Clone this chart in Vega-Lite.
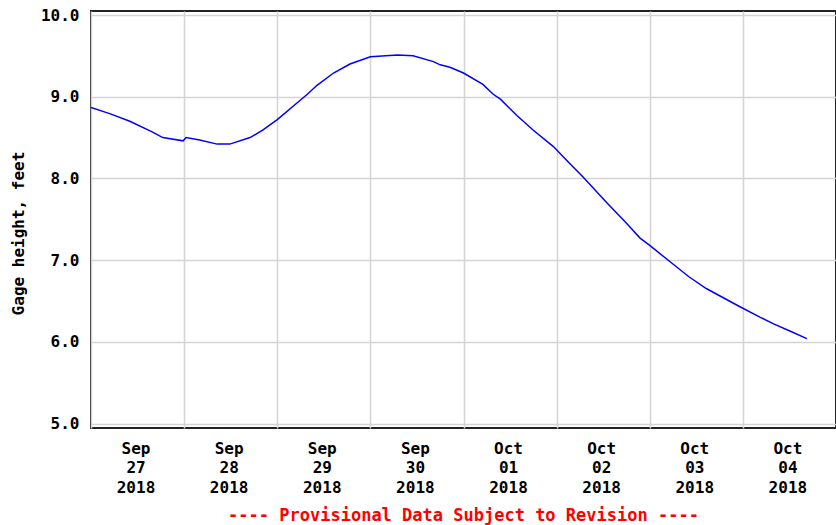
{
  "$schema": "https://vega.github.io/schema/vega-lite/v6.json",
  "autosize": {"type": "none"},
  "width": 745,
  "height": 417,
  "padding": {"left": 91, "top": 11, "right": 0, "bottom": 97},
  "background": "white",
  "config": {
    "view": {"stroke": "#222222", "strokeWidth": 2},
    "font": "DejaVu Sans Mono"
  },
  "data": {
    "values": [
      {"t": "2018-09-27T00:00:00Z", "v": 8.87},
      {"t": "2018-09-27T05:00:00Z", "v": 8.79},
      {"t": "2018-09-27T10:00:00Z", "v": 8.7},
      {"t": "2018-09-27T15:45:00Z", "v": 8.57},
      {"t": "2018-09-27T18:30:00Z", "v": 8.5},
      {"t": "2018-09-27T23:45:00Z", "v": 8.46},
      {"t": "2018-09-28T00:30:00Z", "v": 8.5},
      {"t": "2018-09-28T04:00:00Z", "v": 8.47},
      {"t": "2018-09-28T08:30:00Z", "v": 8.42},
      {"t": "2018-09-28T11:45:00Z", "v": 8.42},
      {"t": "2018-09-28T17:00:00Z", "v": 8.5},
      {"t": "2018-09-28T20:15:00Z", "v": 8.59},
      {"t": "2018-09-29T00:00:00Z", "v": 8.72},
      {"t": "2018-09-29T05:00:00Z", "v": 8.92},
      {"t": "2018-09-29T07:45:00Z", "v": 9.03},
      {"t": "2018-09-29T10:15:00Z", "v": 9.14},
      {"t": "2018-09-29T14:30:00Z", "v": 9.29},
      {"t": "2018-09-29T18:45:00Z", "v": 9.4},
      {"t": "2018-09-30T00:00:00Z", "v": 9.49},
      {"t": "2018-09-30T07:00:00Z", "v": 9.51},
      {"t": "2018-09-30T11:00:00Z", "v": 9.5},
      {"t": "2018-09-30T16:15:00Z", "v": 9.43},
      {"t": "2018-09-30T18:00:00Z", "v": 9.39},
      {"t": "2018-09-30T20:30:00Z", "v": 9.36},
      {"t": "2018-10-01T00:00:00Z", "v": 9.29},
      {"t": "2018-10-01T05:00:00Z", "v": 9.15},
      {"t": "2018-10-01T07:40:00Z", "v": 9.03},
      {"t": "2018-10-01T09:30:00Z", "v": 8.97},
      {"t": "2018-10-01T13:45:00Z", "v": 8.77},
      {"t": "2018-10-01T15:25:00Z", "v": 8.7},
      {"t": "2018-10-01T18:00:00Z", "v": 8.59},
      {"t": "2018-10-01T23:10:00Z", "v": 8.39},
      {"t": "2018-10-02T03:00:00Z", "v": 8.2},
      {"t": "2018-10-02T06:45:00Z", "v": 8.02},
      {"t": "2018-10-02T13:00:00Z", "v": 7.7},
      {"t": "2018-10-02T18:15:00Z", "v": 7.44},
      {"t": "2018-10-02T21:30:00Z", "v": 7.27},
      {"t": "2018-10-03T00:00:00Z", "v": 7.18},
      {"t": "2018-10-03T05:15:00Z", "v": 6.98},
      {"t": "2018-10-03T10:00:00Z", "v": 6.8},
      {"t": "2018-10-03T14:40:00Z", "v": 6.65},
      {"t": "2018-10-03T23:15:00Z", "v": 6.43},
      {"t": "2018-10-04T04:30:00Z", "v": 6.3},
      {"t": "2018-10-04T07:55:00Z", "v": 6.22},
      {"t": "2018-10-04T12:15:00Z", "v": 6.13},
      {"t": "2018-10-04T16:30:00Z", "v": 6.04}
    ]
  },
  "mark": {"type": "line", "color": "#0000ff", "strokeWidth": 1.5, "clip": true},
  "encoding": {
    "x": {
      "field": "t",
      "type": "temporal",
      "scale": {
        "type": "utc",
        "domain": [
          {"year": 2018, "month": "sep", "date": 27, "utc": true},
          {"year": 2018, "month": "oct", "date": 5, "utc": true}
        ],
        "nice": false
      },
      "axis": {
        "values": [
          {"year": 2018, "month": "sep", "date": 27, "utc": true},
          {"year": 2018, "month": "sep", "date": 28, "utc": true},
          {"year": 2018, "month": "sep", "date": 29, "utc": true},
          {"year": 2018, "month": "sep", "date": 30, "utc": true},
          {"year": 2018, "month": "oct", "date": 1, "utc": true},
          {"year": 2018, "month": "oct", "date": 2, "utc": true},
          {"year": 2018, "month": "oct", "date": 3, "utc": true},
          {"year": 2018, "month": "oct", "date": 4, "utc": true}
        ],
        "labelExpr": "[utcFormat(datum.value, '%b'), utcFormat(datum.value, '%d'), utcFormat(datum.value, '%Y')]",
        "labelOffset": 44.5,
        "labelAlign": "center",
        "labelBaseline": "top",
        "labelPadding": 12,
        "labelLineHeight": 19.5,
        "labelFont": "DejaVu Sans Mono",
        "labelFontWeight": "bold",
        "labelFontSize": 16,
        "labelColor": "#000000",
        "labelFlush": false,
        "labelOverlap": false,
        "ticks": false,
        "domain": false,
        "grid": true,
        "gridColor": "#d4d4d4",
        "gridWidth": 1.5,
        "title": "---- Provisional Data Subject to Revision ----",
        "titleFont": "DejaVu Sans Mono",
        "titleFontWeight": "bold",
        "titleFontSize": 17,
        "titleColor": "#ff0000",
        "titleBaseline": "middle",
        "titleY": 87,
        "titleX": 372
      }
    },
    "y": {
      "field": "v",
      "type": "quantitative",
      "scale": {"domain": [4.946, 10.049], "nice": false, "zero": false},
      "axis": {
        "values": [5, 6, 7, 8, 9, 10],
        "format": ".1f",
        "labelFont": "DejaVu Sans Mono",
        "labelFontWeight": "bold",
        "labelFontSize": 16,
        "labelColor": "#000000",
        "labelPadding": 12,
        "ticks": false,
        "domain": false,
        "grid": true,
        "gridColor": "#d4d4d4",
        "gridWidth": 1.5,
        "title": "Gage height, feet",
        "titleFont": "DejaVu Sans Mono",
        "titleFontWeight": "bold",
        "titleFontSize": 16,
        "titleColor": "#000000",
        "titleBaseline": "middle",
        "titleX": -73,
        "titleY": 222
      }
    }
  }
}
